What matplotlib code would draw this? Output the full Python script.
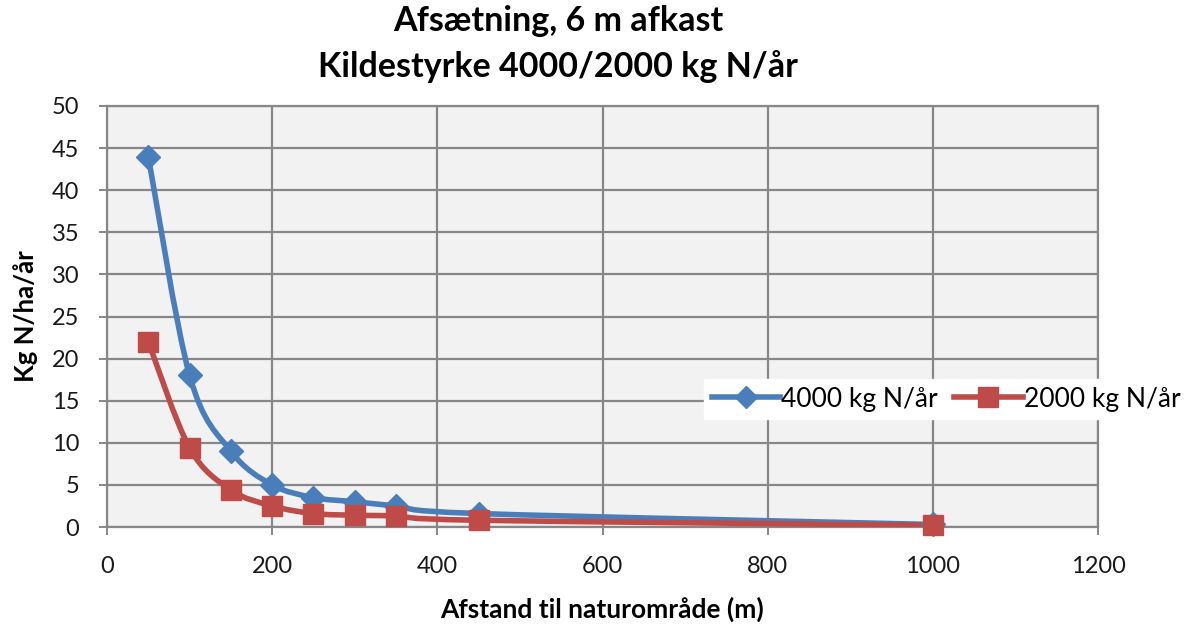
import matplotlib

matplotlib.use("Agg")

import matplotlib.pyplot as plt
import numpy as np
from matplotlib.path import Path
from matplotlib.patches import PathPatch
from matplotlib.lines import Line2D

DISTANCE = [50, 100, 150, 200, 250, 300, 350, 450, 1000]
SOURCE_4000 = [44, 18, 9, 5, 3.5, 3.0, 2.5, 1.6, 0.3]
SOURCE_2000 = [22, 9.4, 4.4, 2.5, 1.6, 1.4, 1.3, 0.8, 0.2]

TITLE = "Afsætning, 6 m afkast\nKildestyrke 4000/2000 kg N/år"
X_LABEL = "Afstand til naturområde (m)"
Y_LABEL = "Kg N/ha/år"
LABEL_4000 = "4000 kg N/år"
LABEL_2000 = "2000 kg N/år"

BLUE = "#4a7ebb"
RED = "#be4b48"

plt.rcParams["font.family"] = ["Lato", "DejaVu Sans"]


def smooth_path(xs, ys, tension=1 / 6):
    # Excel-style smoothed line: Catmull-Rom segments as cubic Bezier curves
    pts = list(zip(xs, ys))
    verts = [pts[0]]
    codes = [Path.MOVETO]
    for i in range(len(pts) - 1):
        p0 = pts[i - 1] if i > 0 else pts[i]
        p1 = pts[i]
        p2 = pts[i + 1]
        p3 = pts[i + 2] if i + 2 < len(pts) else pts[i + 1]
        c1 = (p1[0] + (p2[0] - p0[0]) * tension, p1[1] + (p2[1] - p0[1]) * tension)
        c2 = (p2[0] - (p3[0] - p1[0]) * tension, p2[1] - (p3[1] - p1[1]) * tension)
        verts += [c1, c2, p2]
        codes += [Path.CURVE4, Path.CURVE4, Path.CURVE4]
    return Path(verts, codes)


fig = plt.figure(figsize=(11.93, 6.25), dpi=100)
ax = fig.add_axes([107 / 1193, 1 - 527 / 625, (1098 - 107) / 1193, (527 - 106) / 625])
ax.set_facecolor("#f2f2f2")

for xs, ys, color in [(DISTANCE, SOURCE_4000, BLUE), (DISTANCE, SOURCE_2000, RED)]:
    ax.add_patch(PathPatch(smooth_path(xs, ys), facecolor="none", edgecolor=color,
                           linewidth=4, capstyle="round", joinstyle="round", zorder=3))

ax.plot(DISTANCE, SOURCE_4000, linestyle="none", marker="D", markersize=12,
        color=BLUE, zorder=4, clip_on=False)
ax.plot(DISTANCE, SOURCE_2000, linestyle="none", marker="s", markersize=15,
        color=RED, zorder=5, clip_on=False)

ax.set_xlim(0, 1200)
ax.set_ylim(0, 50)
ax.set_xticks(np.arange(0, 1201, 200))
ax.set_yticks(np.arange(0, 51, 5))
ax.grid(True, color="#878787", linewidth=1.6)
ax.set_axisbelow(True)
for spine in ax.spines.values():
    spine.set_color("#878787")
    spine.set_linewidth(1.6)
ax.tick_params(labelsize=17, length=6, color="#878787", width=1.4, labelcolor="#1a1a1a")
ax.tick_params(axis="x", pad=15)
ax.tick_params(axis="y", pad=14)

ax.set_xlabel(X_LABEL, fontsize=19, fontweight="bold", labelpad=14)
ax.set_ylabel(Y_LABEL, fontsize=18.5, fontweight="bold", labelpad=10)
fig.text(0.468, 0.992, TITLE, ha="center", va="top", fontsize=24.5,
         fontweight="bold", linespacing=1.5)

handles = [
    Line2D([], [], color=BLUE, linewidth=4, marker="D", markersize=11),
    Line2D([], [], color=RED, linewidth=4, marker="s", markersize=14),
]
leg = fig.legend(handles, [LABEL_4000, LABEL_2000], loc="center",
                 bbox_to_anchor=(946 / 1193, 1 - 399 / 625), ncol=2,
                 frameon=True, fontsize=19, handlelength=2.6, handletextpad=0.05,
                 columnspacing=0.6, borderpad=0.3, fancybox=False)
leg.get_frame().set_facecolor("white")
leg.get_frame().set_edgecolor("white")
leg.get_frame().set_alpha(1)

fig.savefig("out.png", dpi=100)
